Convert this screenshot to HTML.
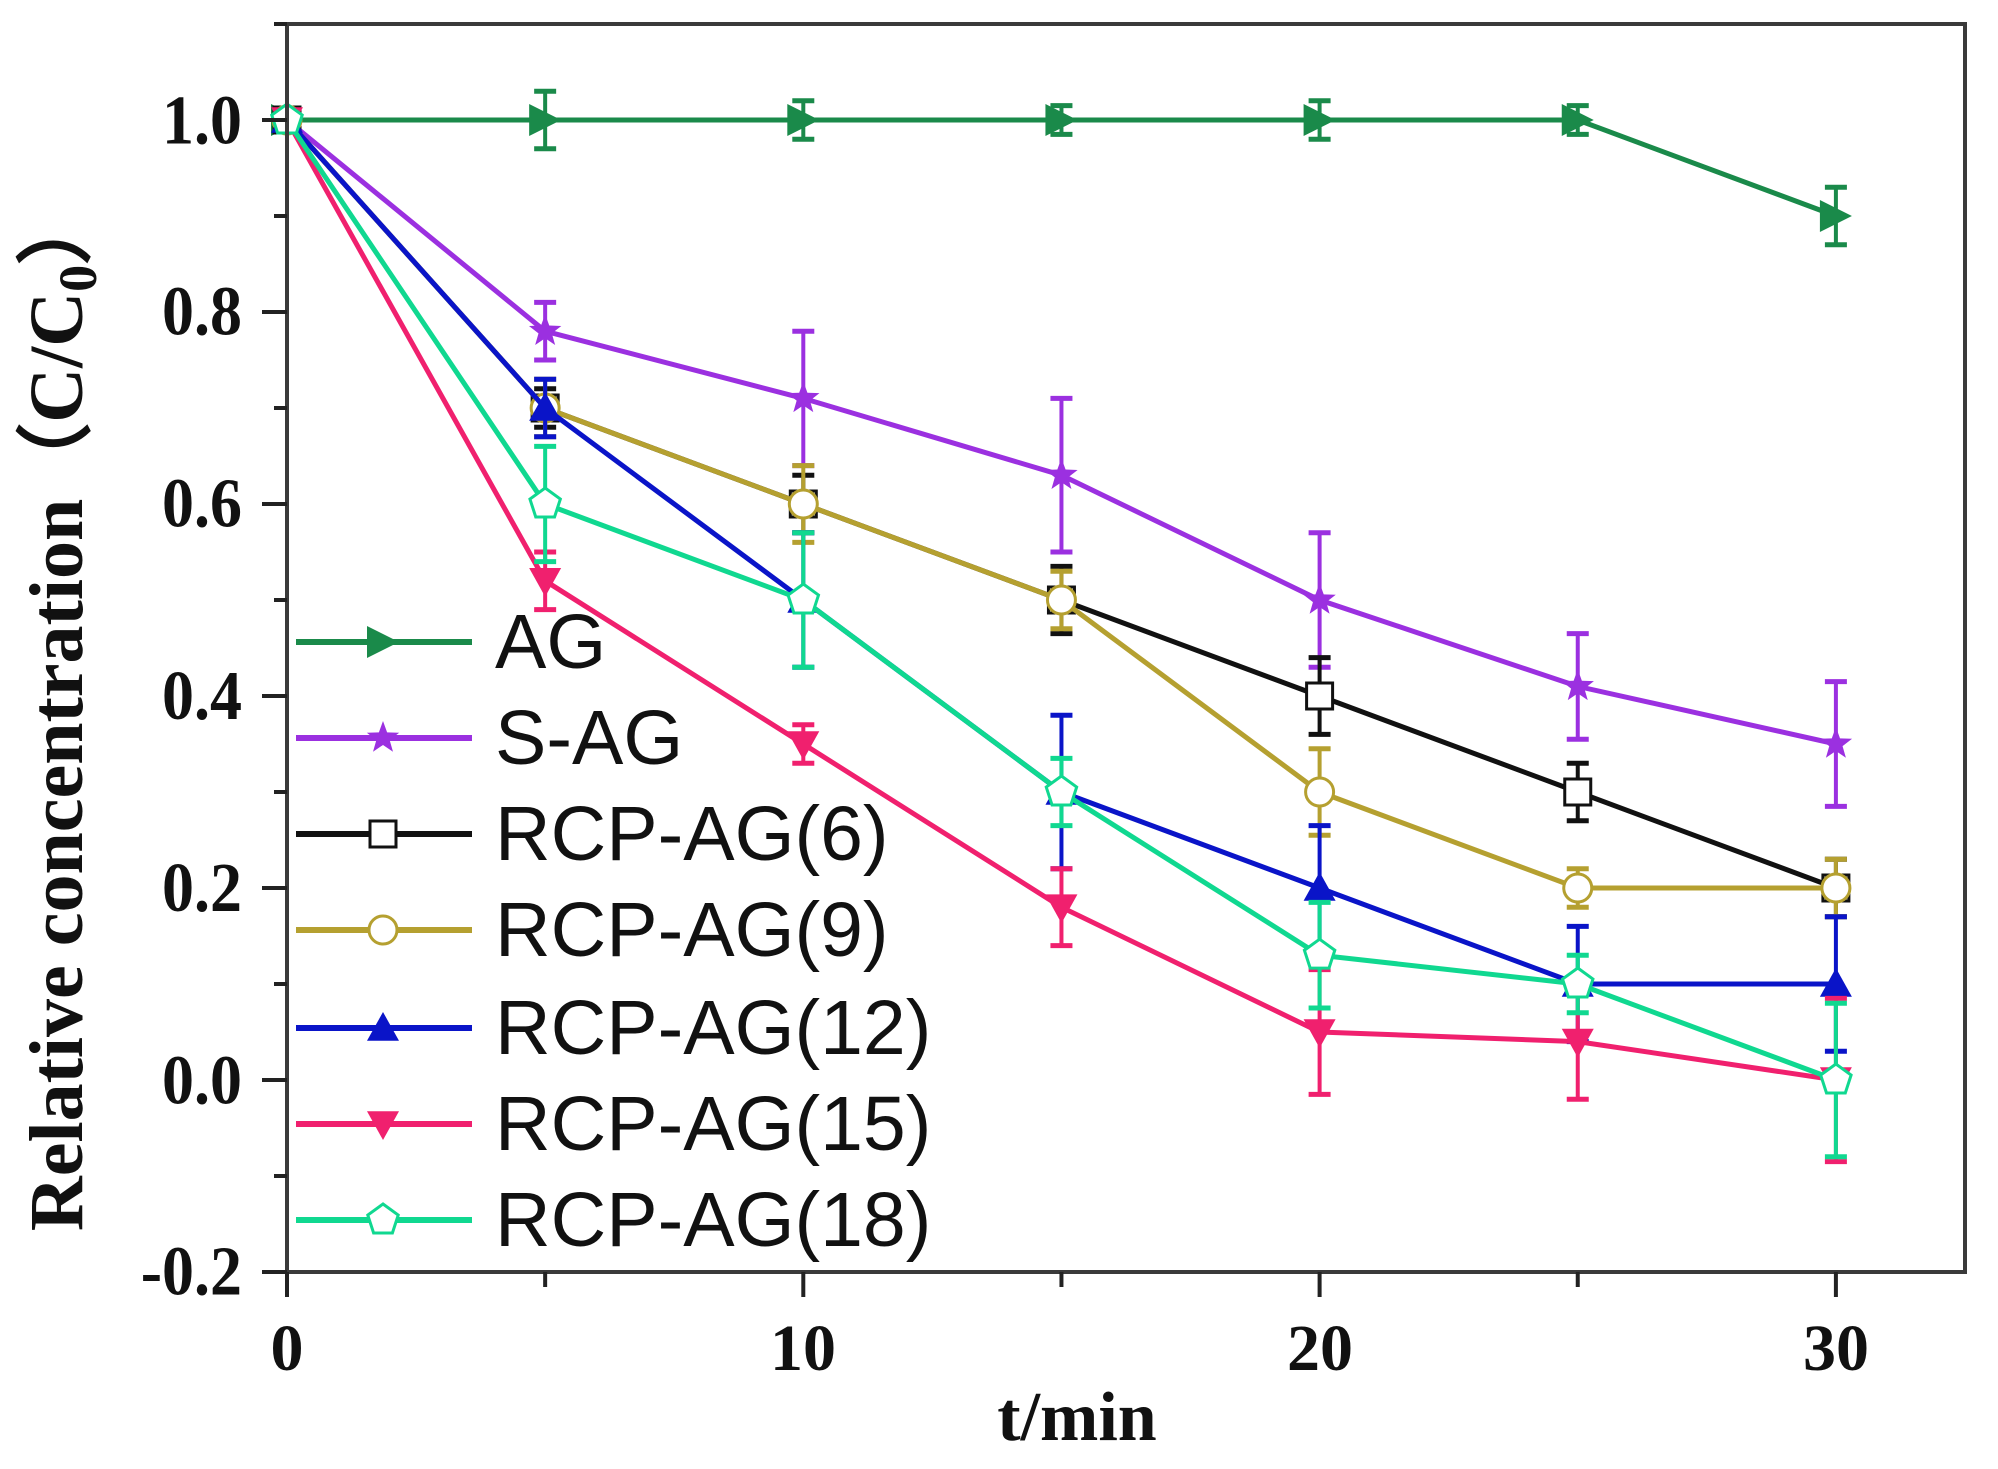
<!DOCTYPE html>
<html><head><meta charset="utf-8"><style>
html,body{margin:0;padding:0;background:#fff;}
svg{display:block;}
</style></head><body>
<svg id="s" width="1998" height="1469" viewBox="0 0 1998 1469" xmlns="http://www.w3.org/2000/svg">
<rect width="1998" height="1469" fill="#fff"/>
<g id="plot"></g>
<g stroke="#3a3a3a" stroke-width="4" fill="none">
<rect x="287" y="24" width="1678" height="1248"/>
</g>
<g id="ticks" stroke="#222" stroke-width="4"></g>
<g font-family="Liberation Serif, serif" font-weight="bold" font-size="64" fill="#111" text-anchor="end">
<text x="242" y="143" transform="translate(0,-14) scale(1,1.1)">1.0</text>
<text x="242" y="335" transform="translate(0,-34) scale(1,1.1)">0.8</text>
<text x="242" y="527" transform="translate(0,-53) scale(1,1.1)">0.6</text>
<text x="242" y="719" transform="translate(0,-72) scale(1,1.1)">0.4</text>
<text x="242" y="911" transform="translate(0,-91) scale(1,1.1)">0.2</text>
<text x="242" y="1103" transform="translate(0,-110) scale(1,1.1)">0.0</text>
<text x="242" y="1295" transform="translate(0,-130) scale(1,1.1)">-0.2</text>
</g>
<g font-family="Liberation Serif, serif" font-weight="bold" font-size="66" fill="#111" text-anchor="middle">
<text x="287" y="1370">0</text>
<text x="803" y="1370">10</text>
<text x="1320" y="1370">20</text>
<text x="1836" y="1370">30</text>
<text x="1077" y="1440" font-size="70">t/min</text>
<text transform="translate(82,710) rotate(-90)" font-size="76">Relative concentration（C/C<tspan font-size="54" dy="14">0</tspan><tspan dy="-14">）</tspan></text>
</g>
<g id="legend" font-family="Liberation Sans, sans-serif" font-size="77" fill="#111">
<text x="495" y="668">AG</text>
<text x="495" y="764">S-AG</text>
<text x="495" y="860">RCP-AG(6)</text>
<text x="495" y="956">RCP-AG(9)</text>
<text x="495" y="1054">RCP-AG(12)</text>
<text x="495" y="1150">RCP-AG(15)</text>
<text x="495" y="1246">RCP-AG(18)</text>
</g>
</svg>
<script>
var NS="http://www.w3.org/2000/svg";
function X(t){return 287+51.63*t;}
function Y(v){return 1080-960*v;}
function el(p,n,a){var e=document.createElementNS(NS,n);for(var k in a)e.setAttribute(k,a[k]);p.appendChild(e);return e;}
var tk=document.getElementById('ticks');
for(var v=-0.2;v<=1.101;v+=0.1){var y=Y(v);var major=Math.round(v*10)%2==0;el(tk,'line',{x1:major?262:274,x2:287,y1:y,y2:y});}
for(var t=0;t<=30;t+=5){var x=X(t);var major=t%10==0;el(tk,'line',{x1:x,x2:x,y1:1272,y2:major?1297:1287});}
var series=[
{c:'#1a8a4a',m:'tri',y:[1,1,1,1,1,1,0.9],e:[0,.03,.02,.015,.02,.015,.03]},
{c:'#9b30e0',m:'star',y:[1,.78,.71,.63,.50,.41,.35],e:[0,.03,.07,.08,.07,.055,.065]},
{c:'#111',m:'sq',y:[1,.70,.60,.50,.40,.30,.20],e:[0,.02,.03,.035,.04,.03,.03]},
{c:'#b5a030',m:'circ',y:[1,.70,.60,.50,.30,.20,.20],e:[0,.03,.04,.03,.045,.02,.03]},
{c:'#0a14c8',m:'up',y:[1,.70,.50,.30,.20,.10,.10],e:[0,.03,.07,.08,.065,.06,.07]},
{c:'#f0206e',m:'down',y:[1,.52,.35,.18,.05,.04,0],e:[0,.03,.02,.04,.065,.06,.085]},
{c:'#10d890',m:'pent',y:[1,.60,.50,.30,.13,.10,0],e:[0,.06,.07,.035,.055,.03,.08]}];
var g=document.getElementById('plot');
function marker(p,type,x,y,c){
 var s=16;
 if(type=='tri') el(p,'polygon',{points:(x-s)+','+(y-s)+' '+(x+s)+','+y+' '+(x-s)+','+(y+s),fill:c});
 else if(type=='up') el(p,'polygon',{points:x+','+(y-s)+' '+(x+s)+','+(y+s*0.8)+' '+(x-s)+','+(y+s*0.8),fill:c});
 else if(type=='down') el(p,'polygon',{points:x+','+(y+s)+' '+(x+s)+','+(y-s*0.8)+' '+(x-s)+','+(y-s*0.8),fill:c});
 else if(type=='sq') el(p,'rect',{x:x-13,y:y-13,width:26,height:26,fill:'#fff',stroke:c,'stroke-width':3});
 else if(type=='circ') el(p,'circle',{cx:x,cy:y,r:14,fill:'#fff',stroke:c,'stroke-width':3});
 else if(type=='pent'){var pts=[];for(var i=0;i<5;i++){var a=-Math.PI/2+i*2*Math.PI/5;pts.push((x+16*Math.cos(a))+','+(y+16*Math.sin(a)));}el(p,'polygon',{points:pts.join(' '),fill:'#fff',stroke:c,'stroke-width':3});}
 else if(type=='star'){var pts=[];for(var i=0;i<10;i++){var a=-Math.PI/2+i*Math.PI/5;var r=i%2?7:17;pts.push((x+r*Math.cos(a))+','+(y+r*Math.sin(a)));}el(p,'polygon',{points:pts.join(' '),fill:c});}
}
series.forEach(function(s){
 var pts=s.y.map(function(v,i){return X(i*5)+','+Y(v);}).join(' ');
 el(g,'polyline',{points:pts,fill:'none',stroke:s.c,'stroke-width':5});
 s.y.forEach(function(v,i){if(!s.e[i])return;var x=X(i*5);var y1=Y(v+s.e[i]),y2=Y(v-s.e[i]);
  el(g,'line',{x1:x,x2:x,y1:y1,y2:y2,stroke:s.c,'stroke-width':4});
  el(g,'line',{x1:x-11,x2:x+11,y1:y1,y2:y1,stroke:s.c,'stroke-width':5});
  el(g,'line',{x1:x-11,x2:x+11,y1:y2,y2:y2,stroke:s.c,'stroke-width':5});});
 s.y.forEach(function(v,i){marker(g,s.m,X(i*5),Y(v),s.c);});
});
var lg=document.getElementById('legend');
var ly=[642,738,834,930,1028,1124,1220];
series.forEach(function(s,i){el(lg,'line',{x1:296,x2:472,y1:ly[i],y2:ly[i],stroke:s.c,'stroke-width':6});marker(lg,s.m,383,ly[i],s.c);});
</script>
</body></html>
